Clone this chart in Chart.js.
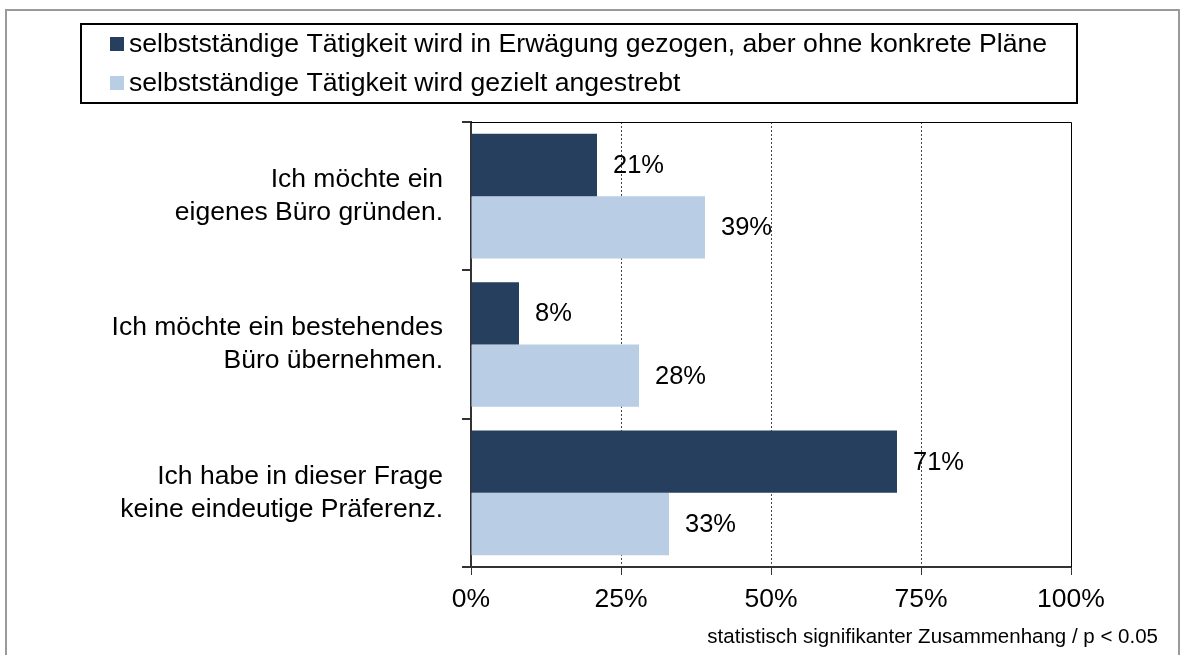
<!DOCTYPE html>
<html>
<head>
<meta charset="utf-8">
<script src="https://cdn.jsdelivr.net/npm/chart.js@4"></script>
<style>
  html, body { margin: 0; padding: 0; background: #fff; }
  #bars { display: block; }
</style>
</head>
<body>
<canvas id="bars" width="1181" height="655"></canvas>
<script>
const categories = [
  ['Ich möchte ein', 'eigenes Büro gründen.'],
  ['Ich möchte ein bestehendes', 'Büro übernehmen.'],
  ['Ich habe in dieser Frage', 'keine eindeutige Präferenz.']
];
const seriesNames = [
  'selbstständige Tätigkeit wird in Erwägung gezogen, aber ohne konkrete Pläne',
  'selbstständige Tätigkeit wird gezielt angestrebt'
];
const considered = [21, 8, 71];
const targeted = [39, 28, 33];
const xTicks = [0, 25, 50, 75, 100];
const note = 'statistisch signifikanter Zusammenhang / p < 0.05';

const FONT = "'Liberation Sans', Arial, sans-serif";
const colors = ['#263f5f', '#b9cde5'];

// outer frame, legend box and footnote
const decorations = {
  id: 'decorations',
  beforeDraw(chart) {
    const ctx = chart.ctx;
    ctx.save();
    ctx.fillStyle = '#fff';
    ctx.fillRect(0, 0, chart.width, chart.height);
    ctx.strokeStyle = '#9a9a9a';
    ctx.lineWidth = 2;
    ctx.beginPath();
    ctx.moveTo(6, 700);
    ctx.lineTo(6, 10);
    ctx.lineTo(1179, 10);
    ctx.lineTo(1179, 700);
    ctx.stroke();

    ctx.strokeStyle = '#000';
    ctx.lineWidth = 2;
    ctx.strokeRect(81, 24, 996, 79);

    ctx.font = '26.6px ' + FONT;
    ctx.textBaseline = 'middle';
    ctx.textAlign = 'left';
    chart.data.datasets.forEach((ds, i) => {
      const y = i === 0 ? 44 : 83;
      ctx.fillStyle = ds.backgroundColor;
      ctx.fillRect(110, y - 7, 14, 14);
      ctx.fillStyle = '#000';
      ctx.fillText(ds.label, 129, y + 1);
    });

    ctx.font = '20.5px ' + FONT;
    ctx.textAlign = 'right';
    ctx.fillText(note, 1158, 637);
    ctx.restore();
  },
  afterDraw(chart) {
    const {ctx, chartArea: a} = chart;
    ctx.save();
    ctx.strokeStyle = '#000';
    ctx.lineWidth = 1;
    ctx.beginPath();
    ctx.moveTo(a.left, a.top + 0.5);
    ctx.lineTo(a.right + 0.5, a.top + 0.5);
    ctx.lineTo(a.right + 0.5, a.bottom);
    ctx.stroke();
    ctx.restore();
  }
};

// percentage next to each bar end
const valueLabels = {
  id: 'valueLabels',
  afterDatasetsDraw(chart) {
    const ctx = chart.ctx;
    ctx.save();
    ctx.font = '25.5px ' + FONT;
    ctx.fillStyle = '#000';
    ctx.textAlign = 'left';
    ctx.textBaseline = 'middle';
    chart.data.datasets.forEach((ds, i) => {
      chart.getDatasetMeta(i).data.forEach((bar, j) => {
        ctx.fillText(ds.data[j] + '%', bar.x + 16, bar.y + 1);
      });
    });
    ctx.restore();
  }
};

new Chart(document.getElementById('bars'), {
  type: 'bar',
  data: {
    labels: categories,
    datasets: [
      { label: seriesNames[0], data: considered, backgroundColor: colors[0] },
      { label: seriesNames[1], data: targeted, backgroundColor: colors[1] }
    ]
  },
  options: {
    indexAxis: 'y',
    responsive: false,
    animation: false,
    devicePixelRatio: 1,
    categoryPercentage: 0.84,
    barPercentage: 1,
    layout: { padding: { top: 122, right: 110, bottom: 0, left: 0 } },
    plugins: {
      legend: { display: false },
      tooltip: { enabled: false }
    },
    scales: {
      x: {
        min: 0,
        max: 100,
        afterBuildTicks: (scale) => { scale.ticks = xTicks.map(v => ({ value: v })); },
        afterFit: (scale) => { scale.height = 88; },
        ticks: {
          callback: (v) => v + '%',
          font: { family: FONT, size: 26.5 },
          color: '#000',
          padding: 9,
          maxRotation: 0
        },
        grid: {
          color: (c) => (c.tick && (c.tick.value === 0 || c.tick.value === 100)) ? 'rgba(0,0,0,0)' : '#444',
          tickColor: '#333',
          tickLength: 8,
          lineWidth: 1
        },
        border: { display: true, color: '#333', width: 2, dash: [2, 2] }
      },
      y: {
        afterFit: (scale) => { scale.width = 471; },
        ticks: {
          font: { family: FONT, size: 26.5, lineHeight: 1.25 },
          color: '#000',
          padding: 19
        },
        grid: {
          drawOnChartArea: false,
          tickColor: '#333',
          tickLength: 9,
          lineWidth: 2
        },
        border: { display: true, color: '#333', width: 2 }
      }
    }
  },
  plugins: [decorations, valueLabels]
});
</script>
</body>
</html>
